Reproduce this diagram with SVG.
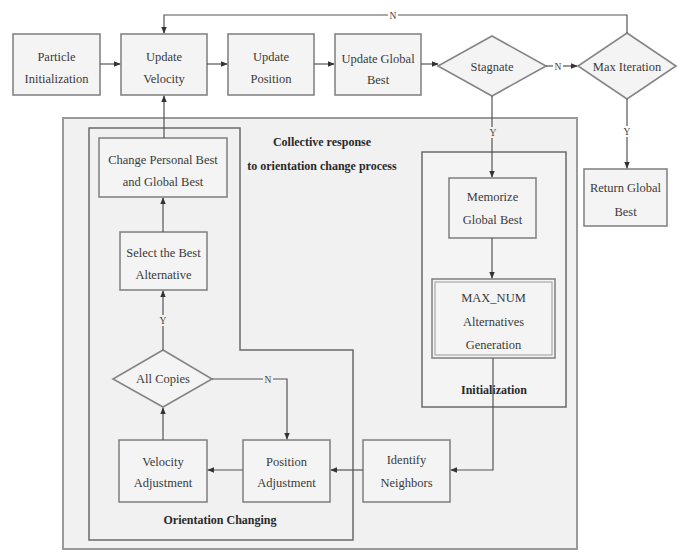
<svg xmlns="http://www.w3.org/2000/svg" width="682" height="551" viewBox="0 0 682 551">
<defs>
<marker id="ah" viewBox="0 0 10 10" refX="9" refY="5" markerWidth="7" markerHeight="7" orient="auto" markerUnits="userSpaceOnUse">
<path d="M0,1 L10,5 L0,9 z" fill="#333"/>
</marker>
<style>
.box{fill:#f4f4f4;stroke:#858585;stroke-width:1.6}
.t{font-family:"Liberation Serif","Times New Roman",serif;font-size:12.5px;fill:#3a3a3a;text-anchor:middle}
.b{font-family:"Liberation Serif","Times New Roman",serif;font-size:12px;font-weight:bold;fill:#2a2a2a;text-anchor:middle}
.l{font-family:"Liberation Serif","Times New Roman",serif;font-size:9.5px;fill:#444;text-anchor:middle}
.c{fill:none;stroke:#555;stroke-width:1.2}
</style>
</defs>
<rect width="682" height="551" fill="#ffffff"/>
<g id="collective">
<rect x="63" y="118" width="514" height="431" fill="#f1f1f1" stroke="#9a9a9a" stroke-width="2"/>
<text class="b" x="322" y="146">Collective response</text>
<text class="b" x="322" y="170">to orientation change process</text>
</g>
<g id="orientation-changing">
<path d="M89,128 H240 V350 H353 V540 H89 Z" fill="none" stroke="#6a6a6a" stroke-width="1.5"/>
<text class="b" x="220" y="524">Orientation Changing</text>
</g>
<g id="initialization">
<rect x="422" y="152" width="144" height="255" fill="#f4f4f4" stroke="#6a6a6a" stroke-width="1.5"/>
<text class="b" x="494" y="394">Initialization</text>
</g>
<g id="particle-init">
<rect class="box" x="13" y="34" width="87" height="61"/>
<text class="t" x="56.5" y="61">Particle</text>
<text class="t" x="56.5" y="83">Initialization</text>
</g>
<g id="update-velocity">
<rect class="box" x="121" y="34" width="86" height="61"/>
<text class="t" x="164" y="61">Update</text>
<text class="t" x="164" y="83">Velocity</text>
</g>
<g id="update-position">
<rect class="box" x="228" y="34" width="86" height="61"/>
<text class="t" x="271" y="61">Update</text>
<text class="t" x="271" y="83">Position</text>
</g>
<g id="update-global-best">
<rect class="box" x="335" y="34" width="86" height="61"/>
<text class="t" x="378" y="63">Update Global</text>
<text class="t" x="378" y="84">Best</text>
</g>
<g id="stagnate">
<polygon class="box" points="492,36 546,66 492,96 438,66"/>
<text class="t" x="492" y="71">Stagnate</text>
</g>
<g id="max-iteration">
<polygon class="box" points="627,33 676,66 627,99 578,66"/>
<text class="t" x="627" y="71">Max Iteration</text>
</g>
<g id="return-global-best">
<rect class="box" x="584" y="169" width="83" height="57"/>
<text class="t" x="625.5" y="192">Return Global</text>
<text class="t" x="625.5" y="216">Best</text>
</g>
<g id="memorize">
<rect class="box" x="449" y="178" width="87" height="60"/>
<text class="t" x="492.5" y="201">Memorize</text>
<text class="t" x="492.5" y="224">Global Best</text>
</g>
<g id="max-num">
<rect class="box" x="432" y="279" width="123" height="79"/>
<rect x="435" y="282" width="117" height="73" fill="none" stroke="#9a9a9a" stroke-width="1"/>
<text class="t" x="493.5" y="302">MAX_NUM</text>
<text class="t" x="493.5" y="326">Alternatives</text>
<text class="t" x="493.5" y="349">Generation</text>
</g>
<g id="change-best">
<rect class="box" x="99" y="138" width="128" height="59"/>
<text class="t" x="163" y="164">Change Personal Best</text>
<text class="t" x="163" y="186">and Global Best</text>
</g>
<g id="select-best">
<rect class="box" x="120" y="232" width="87" height="58"/>
<text class="t" x="163.5" y="257">Select the Best</text>
<text class="t" x="163.5" y="279">Alternative</text>
</g>
<g id="all-copies">
<polygon class="box" points="163,350 212,379 163,407 113,379"/>
<text class="t" x="163" y="383">All Copies</text>
</g>
<g id="velocity-adjustment">
<rect class="box" x="119" y="440" width="88" height="62"/>
<text class="t" x="163" y="466">Velocity</text>
<text class="t" x="163" y="487">Adjustment</text>
</g>
<g id="position-adjustment">
<rect class="box" x="243" y="440" width="87" height="62"/>
<text class="t" x="286.5" y="466">Position</text>
<text class="t" x="286.5" y="487">Adjustment</text>
</g>
<g id="identify-neighbors">
<rect class="box" x="363" y="440" width="87" height="62"/>
<text class="t" x="406.5" y="464">Identify</text>
<text class="t" x="406.5" y="487">Neighbors</text>
</g>
<g id="connectors">
<line class="c" x1="100" y1="64" x2="120" y2="64" marker-end="url(#ah)"/>
<line class="c" x1="207" y1="64" x2="227" y2="64" marker-end="url(#ah)"/>
<line class="c" x1="314" y1="64" x2="334" y2="64" marker-end="url(#ah)"/>
<line class="c" x1="421" y1="64" x2="438" y2="64" marker-end="url(#ah)"/>
<line class="c" x1="546" y1="66" x2="577" y2="66" marker-end="url(#ah)"/>
<path class="c" d="M627,33 V15 H164 V33" marker-end="url(#ah)"/>
<line class="c" x1="627" y1="99" x2="627" y2="168" marker-end="url(#ah)"/>
<line class="c" x1="492" y1="96" x2="492" y2="177" marker-end="url(#ah)"/>
<line class="c" x1="492" y1="238" x2="492" y2="278" marker-end="url(#ah)"/>
<path class="c" d="M493,358 V470 H451" marker-end="url(#ah)"/>
<line class="c" x1="363" y1="470" x2="331" y2="470" marker-end="url(#ah)"/>
<line class="c" x1="243" y1="470" x2="208" y2="470" marker-end="url(#ah)"/>
<line class="c" x1="163" y1="440" x2="163" y2="408" marker-end="url(#ah)"/>
<path class="c" d="M212,379 H287 V439" marker-end="url(#ah)"/>
<line class="c" x1="163" y1="350" x2="163" y2="291" marker-end="url(#ah)"/>
<line class="c" x1="163" y1="232" x2="163" y2="198" marker-end="url(#ah)"/>
<line class="c" x1="164" y1="138" x2="164" y2="96" marker-end="url(#ah)"/>
<rect x="388" y="10" width="10" height="11" fill="#ffffff"/>
<text class="l" x="393" y="19">N</text>
<rect x="553" y="61" width="10" height="10" fill="#ffffff"/>
<text class="l" x="558" y="70">N</text>
<rect x="488" y="127" width="10" height="11" fill="#f1f1f1"/>
<text class="l" x="493" y="136">Y</text>
<rect x="622" y="126" width="10" height="11" fill="#ffffff"/>
<text class="l" x="627" y="135">Y</text>
<rect x="158" y="315" width="10" height="11" fill="#f1f1f1"/>
<text class="l" x="163" y="324">Y</text>
<rect x="263" y="374" width="10" height="11" fill="#f1f1f1"/>
<text class="l" x="268" y="383">N</text>
</g>
</svg>
